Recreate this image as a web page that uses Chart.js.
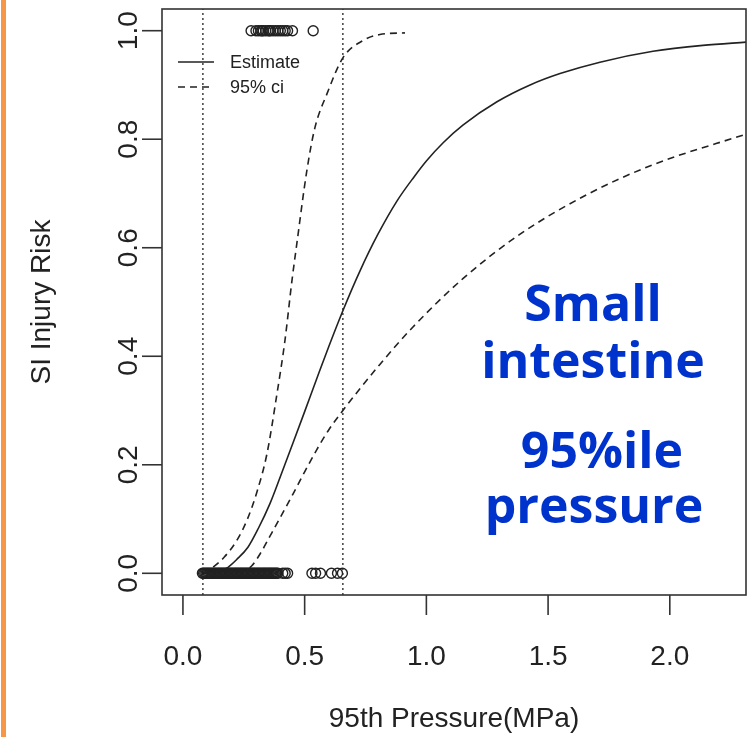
<!DOCTYPE html>
<html>
<head>
<meta charset="utf-8">
<script src="https://cdn.jsdelivr.net/npm/chart.js@4"></script>
<style>
  html, body { margin: 0; padding: 0; background: #fff; }
  #wrap { position: relative; width: 755px; height: 737px; }
</style>
</head>
<body>
<div id="wrap"><canvas id="mycanvas" width="755" height="737"></canvas></div>
<script>
// estimate curve
var estX = [0.082, 0.15, 0.185, 0.22, 0.267, 0.31, 0.357, 0.40, 0.452, 0.50, 0.55, 0.60, 0.657, 0.727, 0.80, 0.879, 0.95, 1.0, 1.07, 1.15, 1.29, 1.426, 1.549, 1.713, 1.931, 2.136, 2.317];
var estY = [0.0, 0.004, 0.011, 0.025, 0.048, 0.083, 0.128, 0.178, 0.24, 0.298, 0.359, 0.419, 0.484, 0.557, 0.624, 0.686, 0.731, 0.76, 0.794, 0.826, 0.869, 0.90, 0.921, 0.942, 0.962, 0.973, 0.979];

// 95% ci lower / upper
var lowX = [0.082, 0.2, 0.25, 0.283, 0.32, 0.357, 0.40, 0.452, 0.50, 0.55, 0.60, 0.657, 0.727, 0.809, 0.945, 1.15, 1.385, 1.66, 1.931, 2.317];
var lowY = [0.0, 0.0, 0.004, 0.014, 0.038, 0.068, 0.103, 0.146, 0.187, 0.228, 0.265, 0.30, 0.34, 0.385, 0.454, 0.543, 0.625, 0.698, 0.753, 0.81];
var upX = [0.082, 0.123, 0.17, 0.222, 0.265, 0.304, 0.345, 0.386, 0.419, 0.448, 0.468, 0.509, 0.542, 0.592, 0.657, 0.74, 0.809, 0.912];
var upY = [0.0, 0.011, 0.03, 0.061, 0.10, 0.15, 0.22, 0.33, 0.429, 0.54, 0.608, 0.742, 0.821, 0.884, 0.95, 0.982, 0.993, 0.996];

// observed pressures: injured (1) and not injured (0)
var injured = [0.28, 0.30, 0.31, 0.32, 0.325, 0.33, 0.34, 0.35, 0.355, 0.36, 0.37, 0.38, 0.39, 0.40, 0.41, 0.42, 0.43, 0.45, 0.535];
var uninjured = [0.08, 0.085, 0.09, 0.095, 0.10, 0.105, 0.11, 0.115, 0.12, 0.125, 0.13, 0.135, 0.14, 0.145, 0.15, 0.155,
  0.16, 0.165, 0.17, 0.175, 0.18, 0.185, 0.19, 0.195, 0.20, 0.205, 0.21, 0.215, 0.22, 0.225, 0.23, 0.235, 0.24, 0.245,
  0.25, 0.255, 0.26, 0.265, 0.27, 0.275, 0.28, 0.285, 0.29, 0.295, 0.30, 0.305, 0.31, 0.315, 0.32, 0.325, 0.33, 0.335,
  0.34, 0.345, 0.35, 0.355, 0.36, 0.365, 0.37, 0.375, 0.38, 0.385, 0.39, 0.41, 0.42, 0.43,
  0.53, 0.545, 0.565, 0.61, 0.635, 0.655];

// vertical reference lines
var refLines = [0.082, 0.657];

var xTicks = [0, 0.5, 1.0, 1.5, 2.0];
var yTicks = [0, 0.2, 0.4, 0.6, 0.8, 1.0];
var noteLines = ["Small", "intestine", "95%ile", "pressure"];

function pts(xs, ys) {
  var out = [];
  for (var i = 0; i < xs.length; i++) out.push({x: xs[i], y: ys[i]});
  return out;
}
function row(xs, yv) {
  var out = [];
  for (var i = 0; i < xs.length; i++) out.push({x: xs[i], y: yv});
  return out;
}

var ink = "#222";
var datasets = [];

refLines.forEach(function(v) {
  datasets.push({
    data: [{x: v, y: -0.04}, {x: v, y: 1.04}],
    showLine: true, pointRadius: 0, borderColor: ink, borderWidth: 1.3,
    borderDash: [2, 3]
  });
});

datasets.push({
  data: pts(estX, estY), showLine: true, pointRadius: 0,
  borderColor: ink, borderWidth: 1.6, cubicInterpolationMode: "monotone"
});
datasets.push({
  data: pts(lowX, lowY), showLine: true, pointRadius: 0,
  borderColor: ink, borderWidth: 1.6, borderDash: [7, 5], cubicInterpolationMode: "monotone"
});
datasets.push({
  data: pts(upX, upY), showLine: true, pointRadius: 0,
  borderColor: ink, borderWidth: 1.6, borderDash: [7, 5], cubicInterpolationMode: "monotone"
});
datasets.push({
  data: row(injured, 1), showLine: false, pointRadius: 5, pointStyle: "circle",
  borderColor: ink, backgroundColor: "rgba(0,0,0,0)", borderWidth: 1.4
});
datasets.push({
  data: row(uninjured, 0), showLine: false, pointRadius: 5, pointStyle: "circle",
  borderColor: ink, backgroundColor: "rgba(0,0,0,0)", borderWidth: 1.4
});

var rPlot = {
  id: "rPlot",
  beforeDraw: function(chart) {
    var ctx = chart.ctx;
    ctx.save();
    ctx.fillStyle = "#fff";
    ctx.fillRect(0, 0, chart.width, chart.height);
    ctx.fillStyle = "#f79646";
    ctx.fillRect(1, 0, 5, chart.height);
    ctx.restore();
  },
  afterDraw: function(chart) {
    var ctx = chart.ctx, a = chart.chartArea;
    var xs = chart.scales.x, ys = chart.scales.y;
    ctx.save();
    ctx.strokeStyle = "#333";
    ctx.lineWidth = 1.6;
    ctx.strokeRect(a.left, a.top, a.right - a.left, a.bottom - a.top);

    ctx.fillStyle = ink;
    ctx.font = "28px 'Liberation Sans', Arial, sans-serif";
    ctx.textAlign = "center";
    ctx.textBaseline = "middle";
    xTicks.forEach(function(t) {
      var px = xs.getPixelForValue(t);
      ctx.beginPath(); ctx.moveTo(px, a.bottom); ctx.lineTo(px, a.bottom + 20); ctx.stroke();
      ctx.fillText(t.toFixed(1), px, 657);
    });
    yTicks.forEach(function(t) {
      var py = ys.getPixelForValue(t);
      ctx.beginPath(); ctx.moveTo(a.left - 20, py); ctx.lineTo(a.left, py); ctx.stroke();
      ctx.save();
      ctx.translate(129, py);
      ctx.rotate(-Math.PI / 2);
      ctx.fillText(t.toFixed(1), 0, 0);
      ctx.restore();
    });
    ctx.fillText("95th Pressure(MPa)", (a.left + a.right) / 2, 719);
    ctx.save();
    ctx.translate(42, (a.top + a.bottom) / 2);
    ctx.rotate(-Math.PI / 2);
    ctx.fillText("SI Injury Risk", 0, 0);
    ctx.restore();

    // legend
    ctx.lineWidth = 1.6;
    ctx.strokeStyle = ink;
    ctx.beginPath(); ctx.moveTo(178, 62); ctx.lineTo(214, 62); ctx.stroke();
    ctx.setLineDash([7, 5]);
    ctx.beginPath(); ctx.moveTo(178, 87); ctx.lineTo(214, 87); ctx.stroke();
    ctx.setLineDash([]);
    ctx.textAlign = "left";
    ctx.font = "18px 'Liberation Sans', Arial, sans-serif";
    ctx.fillText("Estimate", 230, 63);
    ctx.fillText("95% ci", 230, 88);

    // note
    ctx.fillStyle = "#0033cc";
    ctx.font = "bold 50px 'Open Sans', sans-serif";
    ctx.textAlign = "center";
    ctx.textBaseline = "alphabetic";
    var bx = [593, 593, 602, 594], by = [321, 378, 468, 523];
    noteLines.forEach(function(s, i) { ctx.fillText(s, bx[i], by[i]); });
    ctx.restore();
  }
};

var ctx = document.getElementById("mycanvas").getContext("2d");
var chart = new Chart(ctx, {
  type: "scatter",
  data: { datasets: datasets },
  options: {
    responsive: false,
    animation: false,
    layout: { padding: { left: 162, top: 9, right: 9, bottom: 142 } },
    plugins: { legend: { display: false }, tooltip: { enabled: false } },
    scales: {
      x: { type: "linear", min: -0.086, max: 2.313, display: false },
      y: { type: "linear", min: -0.04, max: 1.04, display: false }
    }
  },
  plugins: [rPlot]
});
</script>
</body>
</html>
